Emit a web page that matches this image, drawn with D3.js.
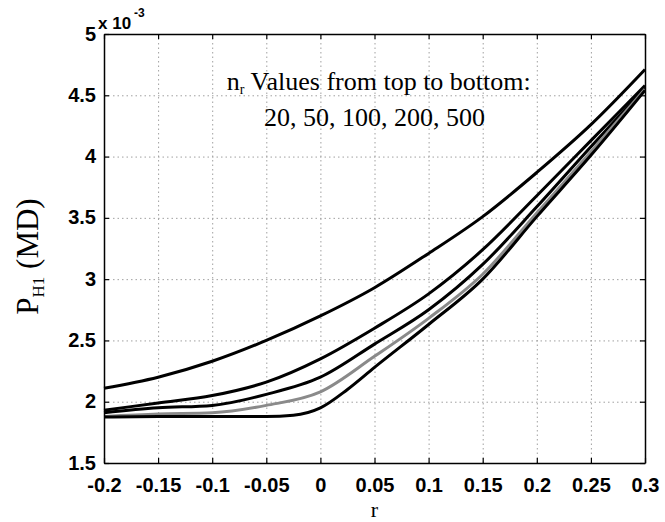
<!DOCTYPE html>
<html>
<head>
<meta charset="utf-8">
<script src="https://cdn.jsdelivr.net/npm/d3@7"></script>
<style>
    body { margin: 0; background: #fff; }
    svg { display: block; }
</style>
</head>
<body>
<div id="chart"></div>
<script>
const rValues = [-0.2, -0.15, -0.1, -0.05, 0, 0.05, 0.1, 0.15, 0.2, 0.25, 0.3];
const n20 = [2.11, 2.20, 2.33, 2.50, 2.70, 2.93, 3.21, 3.51, 3.87, 4.26, 4.71];
const n50 = [1.93, 1.99, 2.05, 2.16, 2.35, 2.60, 2.88, 3.24, 3.68, 4.13, 4.58];
const n100 = [1.91, 1.95, 1.97, 2.06, 2.20, 2.47, 2.75, 3.12, 3.59, 4.08, 4.56];
const n200 = [1.88, 1.90, 1.91, 1.97, 2.08, 2.37, 2.68, 3.04, 3.54, 4.04, 4.55];
const r500 = [-0.2, -0.15, -0.1, -0.05, -0.025, 0, 0.025, 0.05, 0.1, 0.15, 0.2, 0.25, 0.3];
const n500 = [1.875, 1.88, 1.88, 1.88, 1.89, 1.95, 2.10, 2.28, 2.63, 3.00, 3.51, 4.01, 4.54];

const xTicks = [-0.2, -0.15, -0.1, -0.05, 0, 0.05, 0.1, 0.15, 0.2, 0.25, 0.3];
const xTickLabels = ["-0.2", "-0.15", "-0.1", "-0.05", "0", "0.05", "0.1", "0.15", "0.2", "0.25", "0.3"];
const yTicks = [1.5, 2, 2.5, 3, 3.5, 4, 4.5, 5];
const yTickLabels = ["1.5", "2", "2.5", "3", "3.5", "4", "4.5", "5"];

const series = [
    {name: "20", r: rValues, v: n20, color: "#000"},
    {name: "50", r: rValues, v: n50, color: "#000"},
    {name: "100", r: rValues, v: n100, color: "#000"},
    {name: "200", r: rValues, v: n200, color: "#8a8a8a"},
    {name: "500", r: r500, v: n500, color: "#000"},
];

const outerWidth = 665;
const outerHeight = 522;
const margin = {top: 34, right: 20, bottom: 59, left: 104};
const width = outerWidth - margin.left - margin.right;
const height = outerHeight - margin.top - margin.bottom;
const tickFont = "'Liberation Sans', Arial, sans-serif";
const textFont = "'Liberation Serif', 'Times New Roman', serif";

const svg = d3.select("#chart")
    .append("svg")
    .attr("width", outerWidth)
    .attr("height", outerHeight);

const plot = svg.append("g")
    .attr("transform", `translate(${margin.left}, ${margin.top})`);

const x = d3.scaleLinear().domain([-0.2, 0.3]).range([0, width]);
const y = d3.scaleLinear().domain([1.5, 5]).range([height, 0]);

// dotted grid
plot.append("g")
    .attr("transform", `translate(0, ${height})`)
    .call(d3.axisBottom(x).tickValues(xTicks.slice(1, -1)).tickSize(-height).tickFormat(""))
    .call((g) => g.select(".domain").remove())
    .call((g) => g.selectAll("line").attr("stroke", "#a0a0a0").attr("stroke-dasharray", "1.5 3"));

plot.append("g")
    .call(d3.axisLeft(y).tickValues(yTicks.slice(1, -1)).tickSize(-width).tickFormat(""))
    .call((g) => g.select(".domain").remove())
    .call((g) => g.selectAll("line").attr("stroke", "#a0a0a0").attr("stroke-dasharray", "1.5 3"));

const line = d3.line()
    .x((d) => x(d[0]))
    .y((d) => y(d[1]))
    .curve(d3.curveMonotoneX);

series.forEach((s) => {
    plot.append("path")
        .datum(s.r.map((r, i) => [r, s.v[i]]))
        .attr("fill", "none")
        .attr("stroke", s.color)
        .attr("stroke-width", 3)
        .attr("stroke-linejoin", "round")
        .attr("d", line);
});

// axes with inward ticks
plot.append("g")
    .attr("transform", `translate(0, ${height})`)
    .call(d3.axisBottom(x).tickValues(xTicks).tickFormat((d, i) => xTickLabels[i])
        .tickSizeInner(-5).tickSizeOuter(0).tickPadding(14.5))
    .call((g) => g.selectAll("text")
        .attr("font-family", tickFont).attr("font-weight", "bold")
        .attr("font-size", 20).attr("fill", "#000"));

plot.append("g")
    .call(d3.axisLeft(y).tickValues(yTicks).tickFormat((d, i) => yTickLabels[i])
        .tickSizeInner(-5).tickSizeOuter(0).tickPadding(8))
    .call((g) => g.selectAll("text")
        .attr("font-family", tickFont).attr("font-weight", "bold")
        .attr("font-size", 20).attr("dy", "0.3em").attr("fill", "#000"));

plot.append("g")
    .call(d3.axisTop(x).tickValues(xTicks).tickFormat("").tickSizeInner(-5).tickSizeOuter(0));

plot.append("g")
    .attr("transform", `translate(${width}, 0)`)
    .call(d3.axisRight(y).tickValues(yTicks).tickFormat("").tickSizeInner(-5).tickSizeOuter(0));

plot.selectAll(".domain").attr("stroke", "#000").attr("stroke-width", 1.5);
plot.selectAll(".tick line").filter(function () {
    return !this.getAttribute("stroke-dasharray");
}).attr("stroke", "#000").attr("stroke-width", 1.2);

// exponent
const expText = svg.append("text")
    .attr("x", margin.left - 6)
    .attr("y", 29)
    .attr("font-family", tickFont)
    .attr("font-weight", "bold")
    .attr("font-size", 17);
expText.append("tspan").text("x 10");
expText.append("tspan").attr("dx", 3).attr("dy", -12).attr("font-size", 12).text("-3");

// annotation
const note = svg.append("text")
    .attr("x", x(0.054) + margin.left)
    .attr("y", 90)
    .attr("text-anchor", "middle")
    .attr("font-family", textFont)
    .attr("font-size", 26);
note.append("tspan").text("n");
note.append("tspan").attr("font-size", 14).attr("dy", 4).text("r");
note.append("tspan").attr("dy", -4).text(" Values from top to bottom:");

svg.append("text")
    .attr("x", x(0.05) + margin.left)
    .attr("y", 126)
    .attr("text-anchor", "middle")
    .attr("font-family", textFont)
    .attr("font-size", 26)
    .text("20, 50, 100, 200, 500");

// axis labels
svg.append("text")
    .attr("x", margin.left + width / 2)
    .attr("y", 517)
    .attr("text-anchor", "middle")
    .attr("font-family", textFont)
    .attr("font-size", 22)
    .text("r");

const yLabel = svg.append("text")
    .attr("transform", `translate(38, ${margin.top + height / 2 + 8}) rotate(-90)`)
    .attr("text-anchor", "middle")
    .attr("font-family", textFont)
    .attr("font-size", 31);
yLabel.append("tspan").text("P");
yLabel.append("tspan").attr("font-size", 17).attr("dy", 6).text("H1");
yLabel.append("tspan").attr("dy", -6).text(" (MD)");
</script>
</body>
</html>
